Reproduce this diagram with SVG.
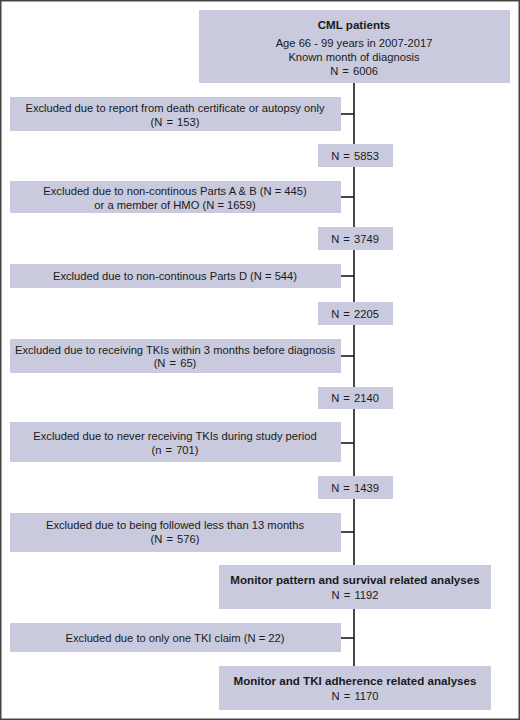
<svg xmlns="http://www.w3.org/2000/svg" width="520" height="720" viewBox="0 0 520 720">
<style>
.box{fill:#c9cadd;}
.t{font-family:"Liberation Sans",Arial,sans-serif;font-size:11.2px;fill:#1a1a1a;text-anchor:middle;}
.b{font-weight:bold;font-size:11.6px;}
.n{word-spacing:1px;}
.ln{stroke:#1a1a1a;stroke-width:1.6;fill:none;}
</style>
<rect x="0" y="0" width="520" height="720" fill="#ffffff"/>
<rect x="0.75" y="0.75" width="518.5" height="718.5" fill="none" stroke="#444" stroke-width="1.5"/>
<g id="connectors">
<path class="ln" d="M354 83V666"/>
<path class="ln" d="M341 114H354"/>
<path class="ln" d="M341 197H354"/>
<path class="ln" d="M341 276H354"/>
<path class="ln" d="M341 356H354"/>
<path class="ln" d="M341 443H354"/>
<path class="ln" d="M341 532H354"/>
<path class="ln" d="M341 638H354"/>
</g>
<g id="n-start">
<rect class="box" x="199" y="10" width="311" height="73"/>
<text class="t b" x="354" y="29">CML patients</text>
<text class="t" x="354" y="47">Age 66 - 99 years in 2007-2017</text>
<text class="t" x="354" y="61">Known month of diagnosis</text>
<text class="t n" x="354" y="75">N = 6006</text>
</g>
<g id="ex1">
<rect class="box" x="10" y="97" width="331" height="34"/>
<text class="t" x="175" y="112">Excluded due to report from death certificate or autopsy only</text>
<text class="t n" x="175" y="126">(N = 153)</text>
</g>
<g id="n5853">
<rect class="box" x="318" y="144" width="75" height="23"/>
<text class="t n" x="355" y="159.5">N = 5853</text>
</g>
<g id="ex2">
<rect class="box" x="10" y="181" width="331" height="32"/>
<text class="t" x="175" y="194.5">Excluded due to non-continous Parts A &amp; B (N = 445)</text>
<text class="t" x="175" y="208.5">or a member of HMO (N = 1659)</text>
</g>
<g id="n3749">
<rect class="box" x="318" y="227" width="75" height="23"/>
<text class="t n" x="355" y="242.5">N = 3749</text>
</g>
<g id="ex3">
<rect class="box" x="10" y="264" width="331" height="24"/>
<text class="t" x="175" y="279.5">Excluded due to non-continous Parts D (N = 544)</text>
</g>
<g id="n2205">
<rect class="box" x="318" y="302" width="75" height="23"/>
<text class="t n" x="355" y="317.5">N = 2205</text>
</g>
<g id="ex4">
<rect class="box" x="10" y="339" width="331" height="34"/>
<text class="t" x="175" y="353.5">Excluded due to receiving TKIs within 3 months before diagnosis</text>
<text class="t n" x="175" y="367">(N = 65)</text>
</g>
<g id="n2140">
<rect class="box" x="318" y="387" width="75" height="22"/>
<text class="t n" x="355" y="402">N = 2140</text>
</g>
<g id="ex5">
<rect class="box" x="10" y="422" width="331" height="40"/>
<text class="t" x="175" y="440">Excluded due to never receiving TKIs during study period</text>
<text class="t n" x="175" y="454">(n = 701)</text>
</g>
<g id="n1439">
<rect class="box" x="318" y="476" width="75" height="23"/>
<text class="t n" x="355" y="491.5">N = 1439</text>
</g>
<g id="ex6">
<rect class="box" x="10" y="513" width="331" height="39"/>
<text class="t" x="175" y="529">Excluded due to being followed less than 13 months</text>
<text class="t n" x="175" y="543">(N = 576)</text>
</g>
<g id="monitor1">
<rect class="box" x="219" y="565" width="272" height="44"/>
<text class="t b" x="355" y="584">Monitor pattern and survival related analyses</text>
<text class="t n" x="355" y="598.5">N = 1192</text>
</g>
<g id="ex7">
<rect class="box" x="10" y="623" width="331" height="29"/>
<text class="t" x="175" y="641.5">Excluded due to only one TKI claim (N = 22)</text>
</g>
<g id="monitor2">
<rect class="box" x="219" y="666" width="272" height="44"/>
<text class="t b" x="355" y="685">Monitor and TKI adherence related analyses</text>
<text class="t n" x="355" y="699.5">N = 1170</text>
</g>
</svg>
